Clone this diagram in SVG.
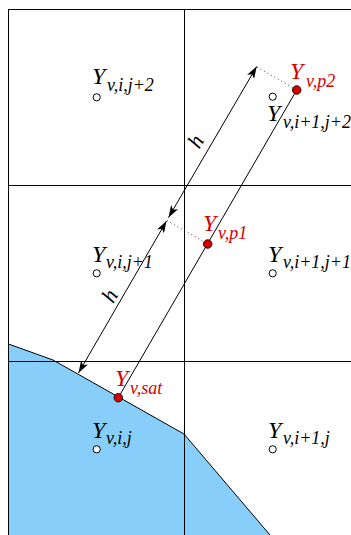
<svg xmlns="http://www.w3.org/2000/svg" width="351" height="535" viewBox="0 0 351 535">
<style>
.grid{stroke:#000;stroke-width:1;fill:none}
.bnd{stroke:#000;stroke-width:1;fill:none}
.cell{fill:#fff;stroke:#000;stroke-width:1}
.pt{fill:#d40000;stroke:#000;stroke-width:0.8}
.Y{font-family:"Liberation Serif",serif;font-style:italic;font-size:24px;fill:#000}
.s{font-family:"Liberation Serif",serif;font-style:italic;font-size:18px;fill:#000}
.red{fill:#d40000}
.ln{stroke:#000;stroke-width:1;fill:none}
.arr{stroke:#000;stroke-width:1;fill:none;marker-start:url(#ah);marker-end:url(#ah)}
.dot{stroke:#444;stroke-width:1;stroke-dasharray:1 3;fill:none}
.h{font-family:"Liberation Serif",serif;font-style:italic;font-size:22px;fill:#000}
</style>
<defs>
<marker id="ah" viewBox="0 0 12 8" refX="12" refY="4" markerWidth="12" markerHeight="8" markerUnits="userSpaceOnUse" orient="auto-start-reverse">
<path d="M0,0 L12,4 L0,8 L3,4 Z" fill="#000"/>
</marker>
</defs>
<rect width="351" height="535" fill="#fff"/>
<g id="region">
<polygon points="8.5,344 53,360 184,434 270,535 8.5,535" fill="#87cefa"/>
<polyline class="bnd" points="8.5,344 53,360 184,434 270,535"/>
</g>
<g id="grid">
<line class="grid" x1="8.5" y1="9.5" x2="351" y2="9.5"/>
<line class="grid" x1="8.5" y1="185.5" x2="351" y2="185.5"/>
<line class="grid" x1="8.5" y1="361.5" x2="351" y2="361.5"/>
<line class="grid" x1="8.5" y1="9" x2="8.5" y2="535"/>
<line class="grid" x1="184.5" y1="9" x2="184.5" y2="535"/>
</g>
<g id="connectors">
<line class="ln" x1="118.3" y1="397.7" x2="296.7" y2="90"/>
<line class="arr" x1="168.5" y1="217.5" x2="256.7" y2="66.5"/>
<line class="arr" x1="166.5" y1="221" x2="78.5" y2="373"/>
<line class="dot" x1="257" y1="67" x2="296.7" y2="90"/>
<line class="dot" x1="167" y1="220.5" x2="207.7" y2="244"/>
<text class="h" transform="translate(196,141.5) rotate(-60)" x="0" y="7" text-anchor="middle">h</text>
<text class="h" transform="translate(110,296) rotate(-60)" x="0" y="7" text-anchor="middle">h</text>
</g>
<g id="n-i-j2">
<circle class="cell" cx="96.7" cy="97.3" r="3.6"/>
<text class="Y" x="92" y="84">Y</text><text class="s" x="107" y="91">v,i,j+2</text>
</g>
<g id="n-i1-j2">
<circle class="cell" cx="272.7" cy="96.7" r="3.6"/>
<text class="Y" x="267" y="121">Y</text><text class="s" x="283" y="128">v,i+1,j+2</text>
</g>
<g id="n-i-j1">
<circle class="cell" cx="96.7" cy="273.3" r="3.6"/>
<text class="Y" x="92" y="262">Y</text><text class="s" x="106" y="268">v,i,j+1</text>
</g>
<g id="n-i1-j1">
<circle class="cell" cx="272.7" cy="273.3" r="3.6"/>
<text class="Y" x="268" y="262">Y</text><text class="s" x="283" y="268">v,i+1,j+1</text>
</g>
<g id="n-i-j">
<circle class="cell" cx="96.7" cy="449.3" r="3.6"/>
<text class="Y" x="92" y="438">Y</text><text class="s" x="106" y="444">v,i,j</text>
</g>
<g id="n-i1-j">
<circle class="cell" cx="272.7" cy="449.3" r="3.6"/>
<text class="Y" x="268" y="438">Y</text><text class="s" x="283" y="444">v,i+1,j</text>
</g>
<g id="p-p2">
<circle class="pt" cx="296.7" cy="90" r="4.3"/>
<text class="Y red" x="290" y="79">Y</text><text class="s red" x="306" y="87">v,p2</text>
</g>
<g id="p-p1">
<circle class="pt" cx="207.7" cy="244" r="4.3"/>
<text class="Y red" x="203" y="231">Y</text><text class="s red" x="218" y="239">v,p1</text>
</g>
<g id="p-sat">
<circle class="pt" cx="118.3" cy="397.7" r="4.3"/>
<text class="Y red" x="115" y="386">Y</text><text class="s red" x="130" y="394">v,sat</text>
</g>
</svg>
